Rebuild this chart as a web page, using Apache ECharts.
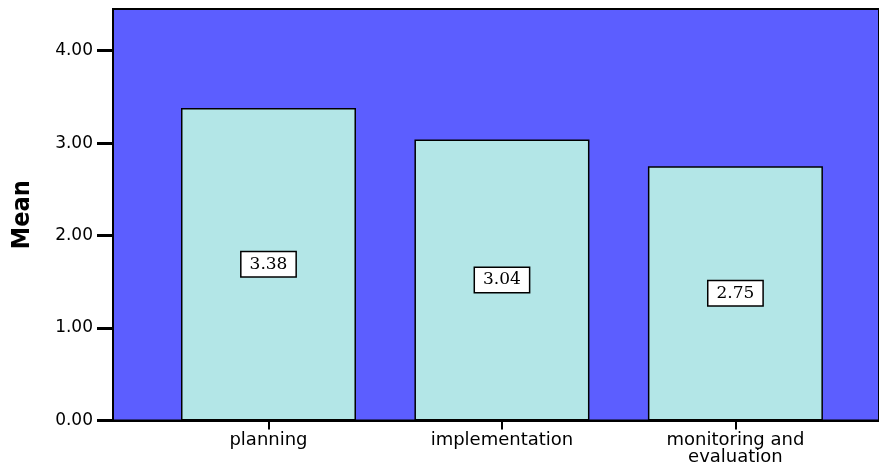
<!DOCTYPE html>
<html>
<head>
<meta charset="utf-8">
<script src="https://cdn.jsdelivr.net/npm/echarts@6/dist/echarts.min.js"></script>
<style>
  html, body { margin: 0; padding: 0; background: #fff; }
  #main { width: 879px; height: 466px; }
</style>
</head>
<body>
<div id="main"></div>
<script>
// values
var categories = ['planning', 'implementation', 'monitoring and\nevaluation'];
var meanValues = [3.38, 3.04, 2.75];
var yTicks = [0, 1, 2, 3, 4];
var xPositions = [1, 2, 3];

function createMeanChart() {
    var chartDom = document.getElementById('main');
    var myChart = echarts.init(chartDom);
    var option;

    let barData = [];
    for (let i = 0; i < meanValues.length; i++) {
        barData.push([xPositions[i], meanValues[i]]);
    }

    option = {
    animation: false,
    grid: {
        left: 113,
        top: 9,
        bottom: 44,
        right: 0,
        show: true,
        backgroundColor: '#5c5eff',
        borderColor: '#000',
        borderWidth: 2
    },
    xAxis: {
        type: 'value',
        // the SPSS plot area runs past the right edge of the picture
        min: 0.334,
        max: 3.615,
        splitLine: { show: false },
        axisLine: { show: true, onZero: false, lineStyle: { color: '#000', width: 2 } },
        axisTick: {
            show: true,
            customValues: xPositions,
            length: 9,
            lineStyle: { color: '#000', width: 2 }
        },
        axisLabel: {
            customValues: xPositions,
            margin: 11,
            color: '#000',
            fontFamily: 'DejaVu Sans',
            fontSize: 18,
            lineHeight: 17,
            formatter: function (v) {
                return categories[Math.round(v) - 1];
            }
        }
    },
    yAxis: {
        type: 'value',
        min: 0,
        max: 4.45,
        name: 'Mean',
        nameLocation: 'middle',
        nameGap: 78,
        nameTextStyle: {
            fontFamily: 'DejaVu Sans Condensed',
            fontWeight: 'bold',
            fontSize: 25,
            color: '#000'
        },
        splitLine: { show: false },
        axisLine: { show: true, lineStyle: { color: '#000', width: 2 } },
        axisTick: {
            show: true,
            customValues: yTicks,
            length: 16,
            lineStyle: { color: '#000', width: 3 }
        },
        axisLabel: {
            customValues: yTicks,
            margin: 20,
            color: '#000',
            fontFamily: 'DejaVu Sans',
            fontSize: 17,
            formatter: function (v) { return v.toFixed(2); }
        }
    },
    series: [
        {
        type: 'bar',
        barWidth: 175,
        data: barData,
        itemStyle: {
            color: '#b3e6e7',
            borderColor: '#000',
            borderWidth: 1.5
        },
        label: {
            show: true,
            position: 'inside',
            color: '#000',
            fontFamily: 'DejaVu Serif',
            fontSize: 17,
            backgroundColor: '#fff',
            borderColor: '#000',
            borderWidth: 1.5,
            padding: [4, 8, 3, 8],
            formatter: function (p) { return p.value[1].toFixed(2); }
        }
        }
    ]
    };

    option && myChart.setOption(option);
}

createMeanChart();
</script>
</body>
</html>
